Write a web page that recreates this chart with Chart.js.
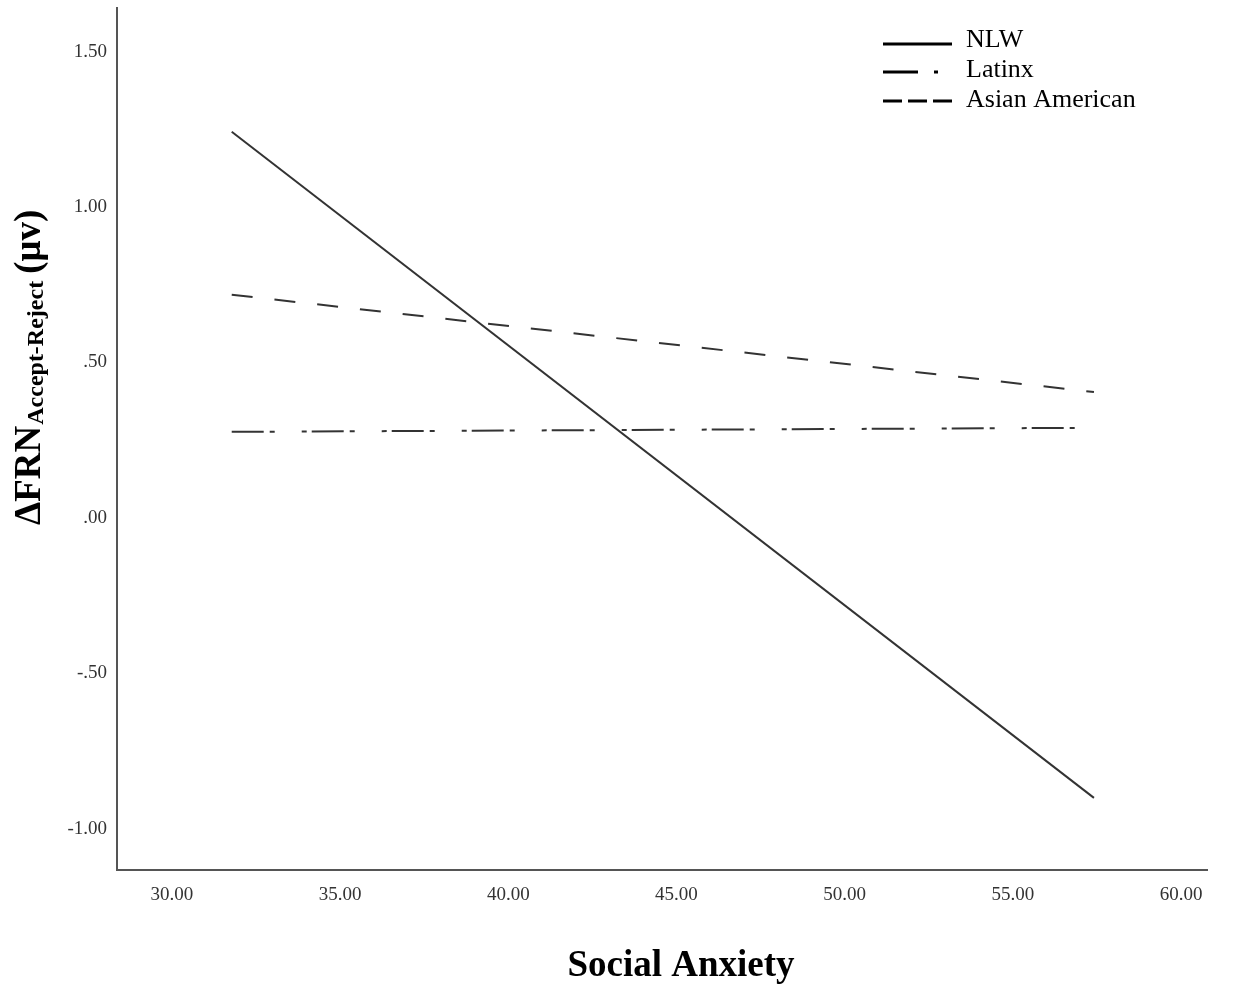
<!DOCTYPE html>
<html>
<head>
<meta charset="utf-8">
<script src="https://cdn.jsdelivr.net/npm/chart.js@4.4.1/dist/chart.umd.min.js"></script>
<style>
  html, body { margin: 0; padding: 0; background: #fff; }
  #wrap { width: 1244px; height: 988px; }
</style>
</head>
<body>
<div id="wrap"><canvas id="chart" width="1244" height="988"></canvas></div>
<script>
// Datos
const seriesNames = ['NLW', 'Latinx', 'Asian American'];
const anxietyRange = [31.78, 57.41];
const nlwValues = [1.242, -0.90];
const latinxValues = [0.277, 0.290];
const asianValues = [0.718, 0.405];
const xTicks = [30, 35, 40, 45, 50, 55, 60];
const yTicks = [-1.0, -0.5, 0, 0.5, 1.0, 1.5];

const serif = '"Liberation Serif", "Times New Roman", serif';

function toPoints(values) {
  return anxietyRange.map((x, i) => ({ x: x, y: values[i] }));
}

// formato tipo SPSS: .50, -.50, 1.00
function fmtY(v) {
  let s = Math.abs(v).toFixed(2);
  if (Math.abs(v) < 1) s = s.substring(1);
  return (v < 0 ? '-' : '') + s;
}

// leyenda y títulos dibujados a mano
const decorPlugin = {
  id: 'decor',
  afterDraw(chart) {
    const ctx = chart.ctx;
    ctx.save();

    // leyenda
    const rows = [44, 72, 101];
    const baselines = [47, 77, 107];
    chart.data.datasets.forEach((ds, i) => {
      ctx.strokeStyle = '#000';
      ctx.lineWidth = 3;
      ctx.setLineDash(ds.legendDash);
      ctx.beginPath();
      ctx.moveTo(883, rows[i]);
      ctx.lineTo(952, rows[i]);
      ctx.stroke();
      ctx.setLineDash([]);
      ctx.fillStyle = '#000';
      ctx.font = '26px ' + serif;
      ctx.textBaseline = 'alphabetic';
      ctx.textAlign = 'left';
      ctx.fillText(ds.label, 966, baselines[i]);
    });

    // título eje x
    ctx.font = 'bold 37px ' + serif;
    ctx.textAlign = 'center';
    ctx.fillText('Social Anxiety', 681, 976);

    // título eje y (rotado)
    ctx.translate(40, 525);
    ctx.rotate(-Math.PI / 2);
    ctx.textAlign = 'left';
    ctx.font = 'bold 37px ' + serif;
    ctx.fillText('\u0394FRN', 0, 0);
    const w1 = ctx.measureText('\u0394FRN').width;
    ctx.font = 'bold 24px ' + serif;
    ctx.fillText('Accept-Reject', w1 + 1, 3);
    const w2 = ctx.measureText('Accept-Reject').width;
    ctx.font = 'bold 37px ' + serif;
    ctx.fillText('(\u03bcv)', w1 + w2 + 8, 0);

    ctx.restore();
  }
};

const lineColor = '#333';

new Chart(document.getElementById('chart'), {
  type: 'line',
  data: {
    datasets: [
      {
        label: seriesNames[0],
        data: toPoints(nlwValues),
        borderColor: lineColor,
        borderWidth: 2,
        borderDash: [],
        legendDash: [],
        pointRadius: 0
      },
      {
        label: seriesNames[1],
        data: toPoints(latinxValues),
        borderColor: lineColor,
        borderWidth: 2,
        borderDash: [32, 6, 5, 27, 5, 5],
        legendDash: [35, 16, 4, 100],
        pointRadius: 0
      },
      {
        label: seriesNames[2],
        data: toPoints(asianValues),
        borderColor: lineColor,
        borderWidth: 2,
        borderDash: [21, 22],
        legendDash: [19, 6],
        pointRadius: 0
      }
    ]
  },
  options: {
    responsive: false,
    animation: false,
    layout: { padding: { left: 0, right: 37, top: 8, bottom: 0 } },
    plugins: {
      legend: { display: false },
      tooltip: { enabled: false }
    },
    scales: {
      x: {
        type: 'linear',
        min: 28.37,
        max: 60.77,
        afterBuildTicks: (scale) => { scale.ticks = xTicks.map(v => ({ value: v })); },
        afterFit: (scale) => {
          scale.height = 118;
          scale.paddingLeft = 0;
          scale.paddingRight = 0;
        },
        grid: { display: false, drawTicks: false },
        border: { display: true, color: '#555', width: 2 },
        ticks: {
          padding: 14,
          color: '#333',
          font: { family: serif, size: 19 },
          callback: (v) => Number(v).toFixed(2)
        }
      },
      y: {
        type: 'linear',
        min: -1.132,
        max: 1.64,
        afterBuildTicks: (scale) => { scale.ticks = yTicks.map(v => ({ value: v })); },
        afterFit: (scale) => {
          scale.width = 117;
          scale.paddingTop = 0;
          scale.paddingBottom = 0;
        },
        grid: { display: false, drawTicks: false },
        border: { display: true, color: '#555', width: 2 },
        ticks: {
          padding: 10,
          color: '#333',
          font: { family: serif, size: 19 },
          callback: (v) => fmtY(v)
        }
      }
    }
  },
  plugins: [decorPlugin]
});
</script>
</body>
</html>
